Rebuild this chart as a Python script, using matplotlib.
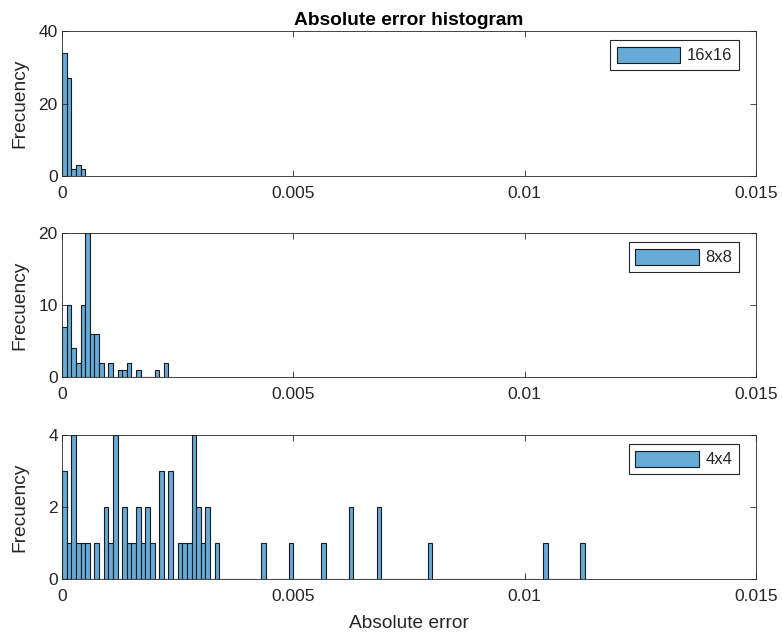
import numpy as np
import matplotlib
matplotlib.use("Agg")
import matplotlib.pyplot as plt

plt.rcParams['font.family'] = ['Liberation Sans', 'DejaVu Sans']
plt.rcParams['font.size'] = 12.5

# histogram counts, bin width 1e-4 starting at 0
bin_width = 1e-4
counts_16 = [34, 27, 2, 3, 2]
counts_8 = [7, 10, 4, 2, 10, 20, 6, 6, 2, 0, 2, 0, 1, 1, 2, 0, 1, 0, 0, 0, 1, 0, 2]
counts_4 = [3, 1, 4, 1, 1, 1, 0, 1, 0, 2,
            1, 4, 0, 2, 1, 1, 2, 1, 2, 1,
            0, 3, 0, 3, 0, 1, 1, 1, 4, 2,
            1, 2, 0, 1, 0, 0, 0, 0, 0, 0,
            0, 0, 0, 1, 0, 0, 0, 0, 0, 1,
            0, 0, 0, 0, 0, 0, 1, 0, 0, 0,
            0, 0, 2, 0, 0, 0, 0, 0, 2, 0,
            0, 0, 0, 0, 0, 0, 0, 0, 0, 1,
            0, 0, 0, 0, 0, 0, 0, 0, 0, 0,
            0, 0, 0, 0, 0, 0, 0, 0, 0, 0,
            0, 0, 0, 0, 1, 0, 0, 0, 0, 0,
            0, 0, 1]
labels = ["16x16", "8x8", "4x4"]
ylims = [40, 20, 4]
yticks = [[0, 20, 40], [0, 10, 20], [0, 2, 4]]
xticks = [0, 0.005, 0.01, 0.015]
xticklabels = ["0", "0.005", "0.01", "0.015"]

txt = '#262626'
face = '#66aad7'

fig = plt.figure(figsize=(7.82, 6.37), dpi=100)
W, H = 782, 637
left, right = 62, 756
tops = [31, 233, 435]
bots = [176, 377, 579]

for i, counts in enumerate([counts_16, counts_8, counts_4]):
    ax = fig.add_axes([left / W, 1 - bots[i] / H, (right - left) / W, (bots[i] - tops[i]) / H])
    edges = np.arange(len(counts) + 1) * bin_width
    ax.bar(edges[:-1], counts, width=bin_width, align='edge', color=face,
           edgecolor='#1a1a1a', linewidth=0.8, label=labels[i])
    ax.set_xlim(0, 0.015)
    ax.set_ylim(0, ylims[i])
    ax.set_xticks(xticks)
    ax.set_xticklabels(xticklabels)
    ax.set_yticks(yticks[i])
    ax.tick_params(direction='in', top=True, right=True, length=4.5, width=0.6,
                   colors=txt, labelsize=12.5)
    ax.tick_params(axis='x', pad=7)
    ax.tick_params(axis='y', pad=3)
    for s in ax.spines.values():
        s.set_color('#262626')
        s.set_linewidth(0.6)
    ax.set_ylabel("Frecuency", color=txt, fontsize=13.75)
    ax.yaxis.set_label_coords(-34 / (right - left), 0.5)
    leg = ax.legend(loc='upper right', bbox_to_anchor=(1 - 17 / (right - left), 1 - 9 / (bots[i] - tops[i])),
                    handlelength=3.8, handleheight=1.1, fancybox=False, framealpha=1,
                    fontsize=12, borderpad=0.4, handletextpad=0.4, borderaxespad=0)
    leg.get_frame().set_edgecolor('#262626')
    leg.get_frame().set_linewidth(0.8)
    for t in leg.get_texts():
        t.set_color(txt)
    if i == 0:
        ax.set_title("Absolute error histogram", fontweight='bold', fontsize=13.75, pad=4)
    if i == 2:
        ax.set_xlabel("Absolute error", color=txt, fontsize=13.75, labelpad=8)

fig.savefig("out.png", dpi=100)
